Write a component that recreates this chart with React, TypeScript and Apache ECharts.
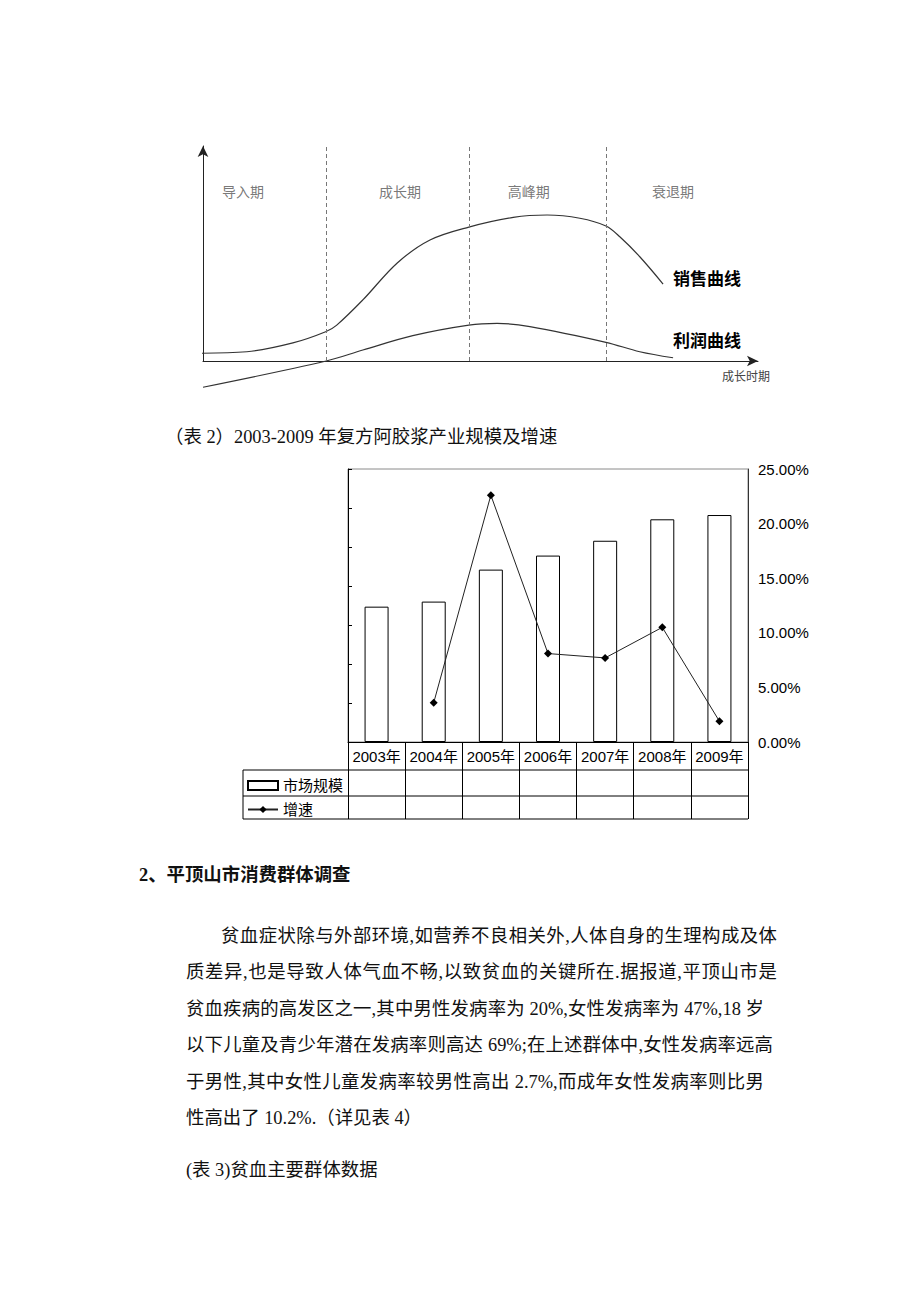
import React, { useEffect, useRef } from 'react';
import * as echarts from 'echarts';

// ---------- lifecycle chart data (abstract units: x 0..100, y 0..100) ----------
const stageNames = ['导入期', '成长期', '高峰期', '衰退期'];
const stageLabelX = [7.2, 35.5, 58.7, 84.7];
const stageLabelY = 79;
const stageBounds = [22.2, 47.9, 72.6];
const salesCurve = [
  [-1.4, 3.6], [7.9, 4.3], [16.2, 8.4], [22.1, 13.6], [24.1, 16.7], [28.8, 28.4],
  [35.0, 45.6], [40.9, 56.3], [47.9, 62.3], [55.9, 66.8], [62.0, 67.9], [67.9, 66.4],
  [72.6, 62.8], [75.1, 57.8], [78.7, 48.5], [82.9, 35.8],
];
const profitCurve = [
  [0, -12.2], [22.2, 0], [28.8, 5.1], [37.8, 11.8], [47.9, 16.7], [53.0, 17.5],
  [58.9, 16.0], [72.6, 8.7], [78.7, 4.3], [84.7, 1.5],
];

// ---------- bar chart data ----------
const years = ['2003年', '2004年', '2005年', '2006年', '2007年', '2008年', '2009年'];
const marketSize = [3.47, 3.6, 4.42, 4.78, 5.16, 5.71, 5.82];
const growthRate = [null, 3.6, 22.6, 8.1, 7.7, 10.5, 1.9];
const rightTicks = [0, 5, 10, 15, 20, 25];

// ---------- page texts ----------
const caption2 = '（表 2）2003-2009 年复方阿胶浆产业规模及增速';
const heading = '2、平顶山市消费群体调查';
const paraLines = [
  '贫血症状除与外部环境,如营养不良相关外,人体自身的生理构成及体',
  '质差异,也是导致人体气血不畅,以致贫血的关键所在.据报道,平顶山市是',
  '贫血疾病的高发区之一,其中男性发病率为 20%,女性发病率为 47%,18 岁',
  '以下儿童及青少年潜在发病率则高达 69%;在上述群体中,女性发病率远高',
  '于男性,其中女性儿童发病率较男性高出 2.7%,而成年女性发病率则比男',
  '性高出了 10.2%.（详见表 4）',
];
const caption3 = '(表 3)贫血主要群体数据';

const lifeGrid = { left: 203, top: 146, width: 555, height: 215 };
const barGrid = { left: 348, top: 469, width: 400, height: 273 };
const tableRowH = [28, 26, 23];
const tableLeft = 243;

const sansFont = '"Liberation Sans", "Noto Sans CJK SC", sans-serif';
const cjkFont = '"Noto Sans CJK SC", sans-serif';
const textFont = '"Liberation Serif", "Noto Sans CJK SC", serif';

function buildOption() {
  const gridBottom = barGrid.top + barGrid.height;
  const gridRight = barGrid.left + barGrid.width;
  let acc = gridBottom;
  const rowLines = tableRowH.map((h) => (acc += h));
  const tableBottom = rowLines[rowLines.length - 1];
  const graphics: any[] = rowLines.map((y) => ({
    type: 'line',
    shape: { x1: tableLeft, y1: y, x2: gridRight, y2: y },
    style: { stroke: '#000', lineWidth: 1 },
  }));
  graphics.push({
    type: 'line',
    shape: { x1: tableLeft, y1: rowLines[0], x2: tableLeft, y2: tableBottom },
    style: { stroke: '#000', lineWidth: 1 },
  });

  return {
    animation: false,
    backgroundColor: '#fff',
    textStyle: { fontFamily: sansFont },
    grid: [
      { ...lifeGrid, containLabel: false },
      { ...barGrid, containLabel: false, show: true, borderColor: '#8a8a8a', borderWidth: 1 },
    ],
    legend: {
      data: [{ name: '市场规模', icon: 'rect' }, { name: '增速' }],
      orient: 'vertical',
      left: 242,
      top: 773,
      itemWidth: 30,
      itemHeight: 9,
      itemGap: 9,
      textStyle: { fontSize: 15, color: '#000', fontFamily: sansFont },
    },
    xAxis: [
      {
        gridIndex: 0,
        type: 'value',
        min: 0,
        max: 100,
        name: '成长时期',
        nameLocation: 'end',
        nameGap: -36,
        nameTextStyle: {
          fontSize: 12,
          color: '#444',
          fontFamily: cjkFont,
          align: 'left',
          verticalAlign: 'top',
          padding: [8, 0, 0, 0],
        },
        axisLine: {
          show: true,
          symbol: ['none', 'arrow'],
          symbolSize: [8, 11],
          lineStyle: { color: '#222', width: 1 },
        },
        axisTick: { show: false },
        axisLabel: { show: false },
        splitLine: { show: false },
      },
      {
        gridIndex: 1,
        type: 'category',
        data: years,
        boundaryGap: true,
        axisLine: { show: true, lineStyle: { color: '#000', width: 1 } },
        axisTick: {
          show: true,
          interval: 0,
          alignWithLabel: false,
          length: tableRowH.reduce((a, b) => a + b, 0),
          lineStyle: { color: '#000', width: 1 },
        },
        axisLabel: { interval: 0, margin: 7, fontSize: 15, color: '#000', fontFamily: sansFont },
        splitLine: { show: false },
      },
    ],
    yAxis: [
      {
        gridIndex: 0,
        type: 'value',
        min: 0,
        max: 100,
        axisLine: {
          show: true,
          symbol: ['none', 'arrow'],
          symbolSize: [8, 11],
          lineStyle: { color: '#222', width: 1 },
        },
        axisTick: { show: false },
        axisLabel: { show: false },
        splitLine: { show: false },
      },
      {
        gridIndex: 1,
        type: 'value',
        position: 'left',
        min: 0,
        max: 7,
        interval: 1,
        axisLine: { show: true, lineStyle: { color: '#000', width: 1 } },
        axisTick: { show: true, inside: true, length: 4, lineStyle: { color: '#000' } },
        axisLabel: { show: false },
        splitLine: { show: false },
      },
      {
        gridIndex: 1,
        type: 'value',
        position: 'right',
        min: rightTicks[0],
        max: rightTicks[rightTicks.length - 1],
        interval: rightTicks[1] - rightTicks[0],
        axisLine: { show: true, lineStyle: { color: '#333', width: 1 } },
        axisTick: { show: false },
        axisLabel: {
          margin: 10,
          fontSize: 15,
          color: '#000',
          fontFamily: sansFont,
          formatter: (v: number) => v.toFixed(2) + '%',
        },
        splitLine: { show: false },
      },
    ],
    series: [
      {
        name: '销售曲线',
        type: 'line',
        xAxisIndex: 0,
        yAxisIndex: 0,
        data: salesCurve,
        smooth: 0.35,
        symbol: 'none',
        clip: false,
        lineStyle: { color: '#333', width: 1.2 },
        endLabel: {
          show: true,
          formatter: '{a}',
          color: '#000',
          fontSize: 17,
          fontWeight: 'bold',
          fontFamily: cjkFont,
          offset: [2, -7],
        },
        markLine: {
          silent: true,
          symbol: 'none',
          label: { show: false },
          lineStyle: { type: [4, 3], color: '#777', width: 1 },
          data: stageBounds.map((x) => ({ xAxis: x })),
        },
      },
      {
        name: '利润曲线',
        type: 'line',
        xAxisIndex: 0,
        yAxisIndex: 0,
        data: profitCurve,
        smooth: 0.35,
        symbol: 'none',
        clip: false,
        lineStyle: { color: '#333', width: 1.2 },
        endLabel: {
          show: true,
          formatter: '{a}',
          color: '#000',
          fontSize: 17,
          fontWeight: 'bold',
          fontFamily: cjkFont,
          offset: [-8, -18],
        },
      },
      {
        name: 'stages',
        type: 'scatter',
        xAxisIndex: 0,
        yAxisIndex: 0,
        symbolSize: 1,
        itemStyle: { color: 'rgba(0,0,0,0)' },
        silent: true,
        data: stageLabelX.map((x, i) => ({ value: [x, stageLabelY], name: stageNames[i] })),
        label: {
          show: true,
          position: 'inside',
          formatter: '{b}',
          fontSize: 14,
          color: '#555',
          fontFamily: cjkFont,
        },
      },
      {
        name: '市场规模',
        type: 'bar',
        xAxisIndex: 1,
        yAxisIndex: 1,
        data: marketSize,
        barWidth: 24,
        itemStyle: { color: '#fff', borderColor: '#000', borderWidth: 1 },
      },
      {
        name: '增速',
        type: 'line',
        xAxisIndex: 1,
        yAxisIndex: 2,
        data: growthRate,
        symbol: 'diamond',
        symbolSize: 8,
        connectNulls: false,
        itemStyle: { color: '#000' },
        lineStyle: { color: '#222', width: 1 },
      },
    ],
    graphic: graphics,
  };
}

type TextLine = { text: string; left: number; right?: number; y: number; bold?: boolean };

const textLines: TextLine[] = [
  { text: caption2, left: 165, y: 437 },
  { text: heading, left: 139, y: 875, bold: true },
  { text: paraLines[0], left: 221, right: 777, y: 935.5 },
  { text: paraLines[1], left: 186, right: 777, y: 972 },
  { text: paraLines[2], left: 186, right: 764, y: 1008.5 },
  { text: paraLines[3], left: 186, right: 773, y: 1045 },
  { text: paraLines[4], left: 186, right: 764, y: 1081.7 },
  { text: paraLines[5], left: 186, y: 1118 },
  { text: caption3, left: 186, y: 1170 },
];

export default function App() {
  const ref = useRef<HTMLDivElement>(null);
  useEffect(() => {
    document.body.style.margin = '0';
    const chart = echarts.init(ref.current as HTMLDivElement, undefined, { renderer: 'svg' });
    chart.setOption(buildOption() as any);
    return () => chart.dispose();
  }, []);

  return (
    <div
      style={{
        position: 'absolute',
        left: 0,
        top: 0,
        width: 920,
        height: 1302,
        background: '#fff',
        overflow: 'hidden',
      }}
    >
      <div ref={ref} style={{ position: 'absolute', left: 0, top: 0, width: 920, height: 1302 }} />
      {textLines.map((t, i) => {
        const justify = t.right !== undefined;
        return (
          <div
            key={i}
            style={{
              position: 'absolute',
              left: t.left,
              top: t.y - 12,
              width: justify ? (t.right as number) - t.left : undefined,
              height: 24,
              lineHeight: '24px',
              fontSize: 18.4,
              fontFamily: textFont,
              fontWeight: t.bold ? 'bold' : 'normal',
              color: '#111',
              whiteSpace: justify ? 'normal' : 'nowrap',
              textAlign: justify ? 'justify' : 'left',
              textAlignLast: justify ? 'justify' : 'auto',
            } as React.CSSProperties}
          >
            {t.text}
          </div>
        );
      })}
    </div>
  );
}
